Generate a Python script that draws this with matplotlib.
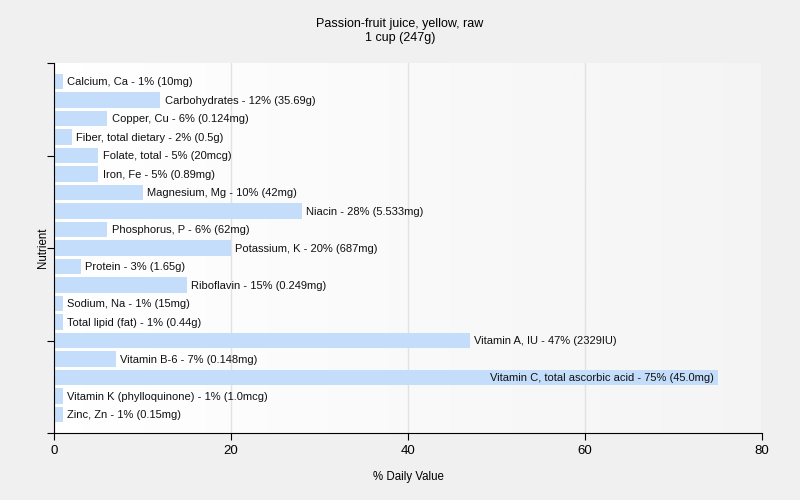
import numpy as np
import matplotlib.pyplot as plt

# values
nutrients = ['Calcium, Ca', 'Carbohydrates', 'Copper, Cu', 'Fiber, total dietary',
             'Folate, total', 'Iron, Fe', 'Magnesium, Mg', 'Niacin', 'Phosphorus, P',
             'Potassium, K', 'Protein', 'Riboflavin', 'Sodium, Na', 'Total lipid (fat)',
             'Vitamin A, IU', 'Vitamin B-6', 'Vitamin C, total ascorbic acid',
             'Vitamin K (phylloquinone)', 'Zinc, Zn']
daily_pct = [1, 12, 6, 2, 5, 5, 10, 28, 6, 20, 3, 15, 1, 1, 47, 7, 75, 1, 1]
amounts = ['10mg', '35.69g', '0.124mg', '0.5g', '20mcg', '0.89mg', '42mg', '5.533mg',
           '62mg', '687mg', '1.65g', '0.249mg', '15mg', '0.44g', '2329IU', '0.148mg',
           '45.0mg', '1.0mcg', '0.15mg']

plt.rcParams['font.family'] = ['Liberation Sans', 'DejaVu Sans']

fig = plt.figure(figsize=(8, 5), dpi=100, facecolor='#f0f0f0')
ax = fig.add_axes([0.0675, 0.134, 0.885, 0.74])

# soft white-to-gray background in the plot area
grad = np.linspace(1.0, 0.0, 256).reshape(1, -1)
ax.imshow(grad, extent=[0, 80, 19, -1], aspect='auto', cmap='Greys_r',
          vmin=-10, vmax=1.0, zorder=0)

pos = np.arange(len(nutrients))
ax.barh(pos, daily_pct, height=0.85, color='#c4ddfa', zorder=2)

for i, (name, v, amt) in enumerate(zip(nutrients, daily_pct, amounts)):
    label = f'{name} - {v}% ({amt})'
    if v > 60:
        ax.text(v - 0.4, i + 0.05, label, va='center', ha='right', fontsize=8.0,
                color='#111111', zorder=3)
    else:
        ax.text(v + 0.5, i + 0.05, label, va='center', ha='left', fontsize=8.0,
                color='#111111', zorder=3)

ax.set_xlim(0, 80)
ax.set_ylim(19, -1)
ax.set_xticks([0, 20, 40, 60, 80])
ax.set_yticks([-1, 4, 9, 14, 19])
ax.set_yticklabels([])
ax.tick_params(axis='x', labelsize=9.5, length=5, direction='out')
ax.tick_params(axis='y', length=5, direction='out')
ax.grid(axis='x', color='#e2e2e2', linewidth=1, zorder=1)
ax.set_axisbelow(True)
for s in ['top', 'right']:
    ax.spines[s].set_visible(False)

ax.set_xlabel('% Daily Value', fontsize=8.3, labelpad=10)
ax.set_ylabel('Nutrient', fontsize=8.3, labelpad=-5)
fig.suptitle('Passion-fruit juice, yellow, raw\n1 cup (247g)', fontsize=9,
             y=0.965, linespacing=1.3)

fig.savefig('out.png', dpi=100, facecolor=fig.get_facecolor())
